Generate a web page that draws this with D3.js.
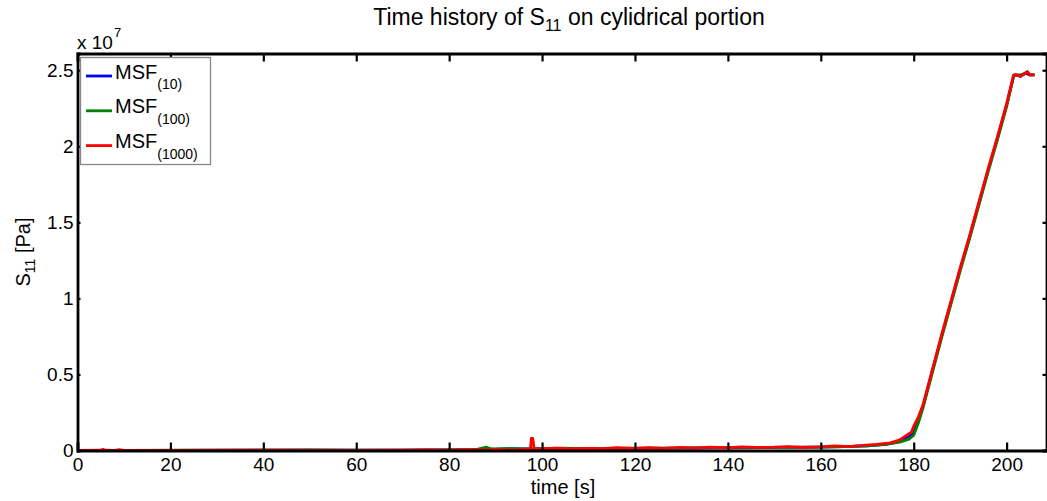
<!DOCTYPE html>
<html>
<head>
<meta charset="utf-8">
<script src="https://cdn.jsdelivr.net/npm/d3@7"></script>
<style>
  body { margin: 0; background: #fff; }
  svg { display: block; font-family: "Liberation Sans", Arial, sans-serif; }
</style>
</head>
<body>
<div id="chart"></div>
<script>
// values in units of 1e7 Pa
const tBlue = [0, 10, 20, 40, 60, 70, 80, 85, 88, 90, 93, 96, 100, 110, 120, 130, 140, 150, 160, 165, 170, 174, 177, 179, 180, 181, 182, 184, 186, 188, 190, 192, 194, 196, 198, 200, 201.5, 202, 203, 204, 205, 206];
const vBlue = [0, 0.001, 0.001, 0.002, 0.002, 0.003, 0.004, 0.006, 0.01, 0.008, 0.012, 0.01, 0.01, 0.012, 0.014, 0.016, 0.018, 0.02, 0.022, 0.025, 0.03, 0.04, 0.06, 0.09, 0.12, 0.2, 0.29, 0.52, 0.75, 0.97, 1.19, 1.40, 1.62, 1.84, 2.05, 2.27, 2.46, 2.47, 2.46, 2.48, 2.47, 2.47];

const tGreen = [0, 10, 20, 40, 50, 60, 70, 80, 86, 88, 89, 92, 96, 100, 104, 110, 120, 130, 140, 150, 160, 165, 170, 174, 177, 179, 180, 181, 182, 184, 186, 188, 190, 192, 194, 196, 198, 200, 201.5, 202, 203, 204, 204.5, 205, 206];
const vGreen = [0, 0.001, 0.002, 0.002, 0.004, 0.002, 0.003, 0.004, 0.008, 0.022, 0.01, 0.012, 0.01, 0.012, 0.016, 0.012, 0.015, 0.016, 0.02, 0.02, 0.022, 0.026, 0.03, 0.04, 0.055, 0.075, 0.10, 0.18, 0.28, 0.51, 0.74, 0.96, 1.18, 1.39, 1.61, 1.83, 2.04, 2.26, 2.46, 2.47, 2.47, 2.48, 2.49, 2.47, 2.47];

const tRed = [0, 5, 5.5, 6, 8, 9, 10, 20, 40, 60, 70, 75, 80, 84, 88, 90, 92, 95, 97.5, 97.7, 98, 98.3, 100, 103, 106, 110, 113, 116, 120, 123, 126, 130, 133, 136, 140, 143, 146, 150, 153, 156, 160, 163, 166, 169, 172, 175, 177, 178.5, 179.5, 180, 181, 182, 184, 186, 188, 190, 192, 194, 196, 198, 200, 201.5, 202, 203, 204, 204.5, 205, 206];
const vRed = [0, 0.002, 0.008, 0.002, 0.001, 0.005, 0.001, 0.001, 0.002, 0.001, 0.002, 0.004, 0.002, 0.006, 0.003, 0.008, 0.004, 0.006, 0.01, 0.08, 0.08, 0.01, 0.012, 0.016, 0.01, 0.014, 0.012, 0.018, 0.014, 0.018, 0.014, 0.02, 0.016, 0.022, 0.018, 0.024, 0.02, 0.022, 0.026, 0.02, 0.024, 0.03, 0.026, 0.034, 0.04, 0.05, 0.07, 0.10, 0.12, 0.16, 0.22, 0.30, 0.53, 0.76, 0.98, 1.20, 1.41, 1.63, 1.85, 2.06, 2.28, 2.47, 2.47, 2.46, 2.48, 2.49, 2.47, 2.47];

const series = [
  { name: "(10)", t: tBlue, v: vBlue, color: "#0000ff" },
  { name: "(100)", t: tGreen, v: vGreen, color: "#008000" },
  { name: "(1000)", t: tRed, v: vRed, color: "#ff0000" }
];

const xTicks = [0, 20, 40, 60, 80, 100, 120, 140, 160, 180, 200];
const yTicks = [0, 0.5, 1, 1.5, 2, 2.5];

const width = 1047, height = 501;
const mLeft = 77.5, mRight = 1047.5, mTop = 53.5, mBottom = 450.5;

const svg = d3.select("#chart").append("svg")
  .attr("width", width).attr("height", height);

const x = d3.scaleLinear().domain([0, 208.8]).range([mLeft, mRight]);
const y = d3.scaleLinear().domain([0, 2.61]).range([mBottom, mTop]);

// data lines
const line = d3.line().x(d => x(d[0])).y(d => y(d[1]));
series.forEach(s => {
  svg.append("path")
    .datum(s.t.map((t, i) => [t, s.v[i]]))
    .attr("d", line)
    .attr("fill", "none")
    .attr("stroke", s.color)
    .attr("stroke-width", 2.8)
    .attr("stroke-linejoin", "round");
});

// axes frame and ticks
const fmt = d => d3.format("")(d);
svg.append("g").attr("transform", `translate(0,${mBottom})`)
  .call(d3.axisBottom(x).tickValues(xTicks).tickSize(-8).tickPadding(7).tickFormat(fmt));
svg.append("g").attr("transform", `translate(0,${mTop})`)
  .call(d3.axisTop(x).tickValues(xTicks).tickSize(-8).tickFormat(""));
svg.append("g").attr("transform", `translate(${mLeft},0)`)
  .call(d3.axisLeft(y).tickValues(yTicks).tickSize(-3).tickPadding(4).tickFormat(fmt));
svg.append("g").attr("transform", `translate(${mRight - 1},0)`)
  .call(d3.axisRight(y).tickValues(yTicks).tickSize(-4).tickFormat(""));

svg.selectAll(".domain").attr("stroke", "#000").attr("stroke-width", 2.8);
svg.selectAll(".tick line").attr("stroke", "#000").attr("stroke-width", 2.2);
svg.selectAll(".tick text").attr("font-size", 19).attr("fill", "#000")
  .attr("font-family", "'Liberation Sans', Arial, sans-serif");

// exponent label
const ex = svg.append("text").attr("x", 77).attr("y", 49).attr("font-size", 19);
ex.append("tspan").text("x 10");
ex.append("tspan").attr("font-size", 13).attr("dy", -12).attr("dx", 1).text("7");

// title
const title = svg.append("text").attr("x", 569).attr("y", 25)
  .attr("text-anchor", "middle").attr("font-size", 23);
title.append("tspan").text("Time history of S");
title.append("tspan").attr("font-size", 16).attr("dy", 6).text("11");
title.append("tspan").attr("dy", -6).text(" on cylidrical portion");

// axis labels
svg.append("text").attr("x", 563).attr("y", 494)
  .attr("text-anchor", "middle").attr("font-size", 20).text("time [s]");
const yl = svg.append("text")
  .attr("transform", `translate(30,${(mTop + mBottom) / 2}) rotate(-90)`)
  .attr("text-anchor", "middle").attr("font-size", 20);
yl.append("tspan").text("S");
yl.append("tspan").attr("font-size", 14).attr("dy", 5).text("11");
yl.append("tspan").attr("dy", -5).text(" [Pa]");

// legend
const lg = svg.append("g");
lg.append("rect").attr("x", 80.5).attr("y", 57.5).attr("width", 130).attr("height", 107)
  .attr("fill", "#fff").attr("stroke", "#888").attr("stroke-width", 1.3);
series.forEach((s, i) => {
  const cy = 76 + i * 34.8;
  lg.append("line").attr("x1", 86).attr("x2", 112).attr("y1", cy).attr("y2", cy)
    .attr("stroke", s.color).attr("stroke-width", 2.8);
  const t = lg.append("text").attr("x", 115).attr("y", cy + 2.5).attr("font-size", 20);
  t.append("tspan").text("MSF");
  t.append("tspan").attr("font-size", 14).attr("dy", 10.5).text(s.name);
});
</script>
</body>
</html>
